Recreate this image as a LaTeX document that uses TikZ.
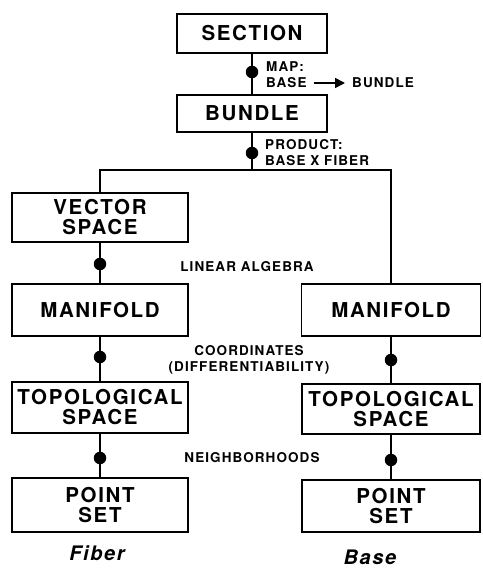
\documentclass[tikz,border=0pt]{standalone}
\usepackage{fontspec}
\usetikzlibrary{arrows.meta,positioning}
\newfontfamily\heros[LetterSpace=8]{TeX Gyre Heros}
\tikzset{
  box/.style={draw,line width=1.8pt,align=center,inner sep=0pt,font=\heros\bfseries\fontsize{20.5}{20}\selectfont},
  dot/.style={circle,fill,inner sep=0pt,minimum size=12.5pt},
  lbl/.style={inner sep=1pt,align=left,font=\heros\bfseries\fontsize{13.5}{16}\selectfont},
  tag/.style={font=\heros\bfseries\itshape\fontsize{20}{22}\selectfont},
  link/.style={line width=1.3pt}
}
\begin{document}
\begin{tikzpicture}[x=1pt,y=-1pt]
\useasboundingbox (0,0) rectangle (482,575);
\node[box,minimum width=150pt,minimum height=39pt] (section) at (252,33.5) {SECTION};
\node[box,minimum width=150pt,minimum height=37pt] (bundle) at (252,113.5) {BUNDLE};
\node[box,minimum width=176pt,minimum height=49pt] (vector) at (100,217.5) {VECTOR\\SPACE};
\node[box,minimum width=176pt,minimum height=52pt] (lman) at (100,310) {MANIFOLD};
\node[box,minimum width=176pt,minimum height=51pt] (ltop) at (100,407.5) {TOPOLOGICAL\\SPACE};
\node[box,minimum width=176pt,minimum height=54pt] (lpt) at (100,505) {POINT\\SET};
\node[box,minimum width=179pt,minimum height=52pt] (rman) at (391,310) {MANIFOLD};
\node[box,minimum width=178pt,minimum height=50pt] (rtop) at (391,409) {TOPOLOGICAL\\SPACE};
\node[box,minimum width=178pt,minimum height=52pt] (rpt) at (391,506) {POINT\\SET};
\node[dot] (d1) at (252,72) {};
\node[dot] (d2) at (252,153) {};
\node[dot] (d3) at (100,264) {};
\node[dot] (d4) at (100,357) {};
\node[dot] (d5) at (391,360) {};
\node[dot] (d6) at (100,458) {};
\node[dot] (d7) at (391,460) {};
\coordinate (j) at (252,170);
\draw[link] (section) -- (d1) -- (bundle);
\draw[link] (bundle) -- (d2) -- (j);
\draw[link] (vector.north) |- (j) -| (rman.north);
\draw[link] (vector) -- (d3) -- (lman);
\draw[link] (lman) -- (d4) -- (ltop);
\draw[link] (ltop) -- (d6) -- (lpt);
\draw[link] (rman) -- (d5) -- (rtop);
\draw[link] (rtop) -- (d7) -- (rpt);
\node[lbl,anchor=west] (mapa) at (265,67) {MAP:};
\node[lbl,anchor=west] (mapb) at (265,83) {BASE};
\node[lbl,anchor=west] (mapc) at (351,83) {BUNDLE};
\draw[line width=1.6pt,-{Triangle[length=10pt,width=10pt]},shorten <=6pt,shorten >=6pt] (mapb) -- (mapc);
\node[lbl,anchor=west] (prod) at (264,152.5) {PRODUCT:\\BASE X FIBER};
\node[lbl] (linalg) at (247,267) {LINEAR ALGEBRA};
\node[lbl,align=center] (coord) at (249,359.5) {COORDINATES\\(DIFFERENTIABILITY)};
\node[lbl] (nbhd) at (252,458) {NEIGHBORHOODS};
\node[tag] (fiber) at (97,553) {Fiber};
\node[tag] (base) at (370,557) {Base};
\end{tikzpicture}
\end{document}
